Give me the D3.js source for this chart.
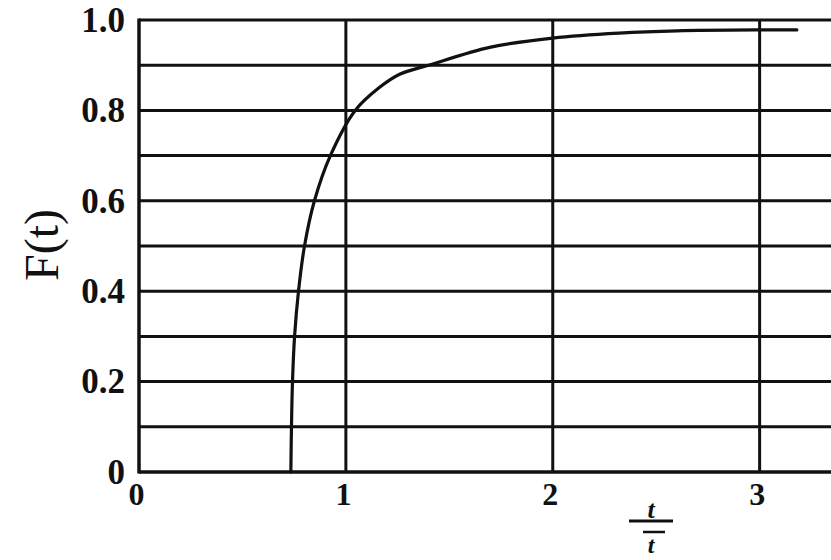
<!DOCTYPE html>
<html>
<head>
<meta charset="utf-8">
<script src="https://cdn.jsdelivr.net/npm/d3@7"></script>
<style>
  body { margin: 0; background: #fff; }
  svg { display: block; }
  .tick text { font-family: "Liberation Serif", "DejaVu Serif", serif; font-weight: bold; fill: #111; }
</style>
</head>
<body>
<svg id="chart" width="831" height="560"></svg>
<script>
// curve: t / t-bar against F(t)
var tValues = [0.734, 0.737, 0.742, 0.752, 0.771, 0.80, 0.848, 0.925, 1.045, 1.16, 1.26, 1.40, 1.7, 2.0, 2.32, 2.6, 3.0, 3.18];
var fValues = [0, 0.1, 0.2, 0.3, 0.4, 0.5, 0.6, 0.7, 0.8, 0.85, 0.88, 0.9, 0.94, 0.96, 0.971, 0.976, 0.978, 0.978];

var yTicks = [0, 0.2, 0.4, 0.6, 0.8, 1.0];
var xTicks = [0, 1, 2, 3];
var yGrid = [0.1, 0.2, 0.3, 0.4, 0.5, 0.6, 0.7, 0.8, 0.9, 1.0];
var xGrid = [1, 2, 3];

var LEFT = 139, RIGHT = 831, TOP = 20, BOTTOM = 472;
var INK = "#111";

var svg = d3.select("#chart");

var x = d3.scaleLinear().domain([0, 3.345]).range([LEFT, RIGHT]);
var y = d3.scaleLinear().domain([0, 1]).range([BOTTOM, TOP]);

// grid
svg.append("g").selectAll("line").data(yGrid).enter().append("line")
    .attr("x1", x(0)).attr("x2", RIGHT)
    .attr("y1", function(d){ return y(d); })
    .attr("y2", function(d){ return y(d); })
    .attr("stroke", INK).attr("stroke-width", 3);

svg.append("g").selectAll("line").data(xGrid).enter().append("line")
    .attr("x1", function(d){ return x(d); })
    .attr("x2", function(d){ return x(d); })
    .attr("y1", y(0)).attr("y2", y(1))
    .attr("stroke", INK).attr("stroke-width", 3);

// axis lines
svg.append("line")
    .attr("x1", x(0)).attr("x2", x(0)).attr("y1", y(0) + 1.5).attr("y2", y(1) - 1.5)
    .attr("stroke", INK).attr("stroke-width", 3.5);
svg.append("line")
    .attr("x1", x(0)).attr("x2", RIGHT).attr("y1", y(0)).attr("y2", y(0))
    .attr("stroke", INK).attr("stroke-width", 3.5);

// y axis labels
var yAxis = d3.axisLeft(y).tickValues(yTicks).tickSize(0).tickPadding(14)
    .tickFormat(function(d){ return d === 0 ? "0" : d3.format(".1f")(d); });
var gy = svg.append("g").attr("transform", "translate(" + LEFT + ",0)").call(yAxis);
gy.select(".domain").remove();
gy.selectAll("text").style("font-size", "35px").attr("dy", "0.32em");

// x axis labels
var xAxis = d3.axisBottom(x).tickValues(xTicks).tickSize(0).tickPadding(14)
    .tickFormat(d3.format("d"));
var gx = svg.append("g").attr("transform", "translate(0," + BOTTOM + ")").call(xAxis);
gx.select(".domain").remove();
gx.selectAll("text").style("font-size", "32px").attr("dy", "0.6em").attr("dx", "-3");

// curve
var pts = tValues.map(function(t, i){ return [t, fValues[i]]; });
var line = d3.line()
    .x(function(d){ return x(d[0]); })
    .y(function(d){ return y(d[1]); })
    .curve(d3.curveCatmullRom.alpha(0.5));
svg.append("path").datum(pts)
    .attr("d", line)
    .attr("fill", "none").attr("stroke", INK).attr("stroke-width", 3.2)
    .attr("stroke-linecap", "round");

// y title
svg.append("text")
    .attr("transform", "translate(58,245) rotate(-90)")
    .attr("text-anchor", "middle")
    .style("font-family", "'Liberation Serif', serif")
    .style("font-size", "48px")
    .attr("fill", INK)
    .text("F(t)");

// x title: t over t-bar
var xt = svg.append("g").attr("transform", "translate(651,0)");
xt.append("text")
    .attr("x", 0).attr("y", 518).attr("text-anchor", "middle")
    .style("font-family", "'Liberation Serif', serif").style("font-style", "italic").style("font-weight", "bold")
    .style("font-size", "26px").attr("fill", INK).text("t");
xt.append("line").attr("x1", -22).attr("x2", 22).attr("y1", 521).attr("y2", 521)
    .attr("stroke", INK).attr("stroke-width", 3);
xt.append("line").attr("x1", -8).attr("x2", 14).attr("y1", 532).attr("y2", 532)
    .attr("stroke", INK).attr("stroke-width", 2.5);
xt.append("text")
    .attr("x", 0).attr("y", 553).attr("text-anchor", "middle")
    .style("font-family", "'Liberation Serif', serif").style("font-style", "italic").style("font-weight", "bold")
    .style("font-size", "24px").attr("fill", INK).text("t");
</script>
</body>
</html>
